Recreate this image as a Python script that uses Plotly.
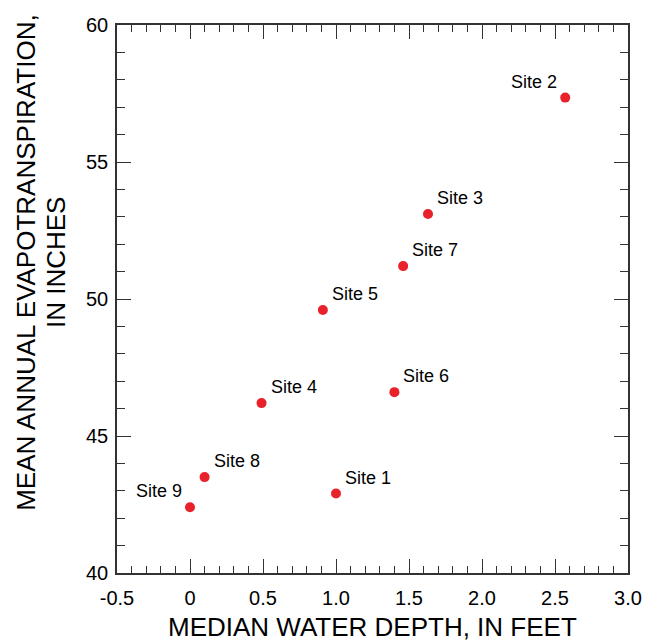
import plotly.graph_objects as go

sites = ["Site 1", "Site 2", "Site 3", "Site 4", "Site 5", "Site 6", "Site 7", "Site 8", "Site 9"]
depth = [1.00, 2.57, 1.63, 0.49, 0.91, 1.40, 1.46, 0.10, 0.00]
et = [42.9, 57.35, 53.1, 46.2, 49.6, 46.6, 51.2, 43.5, 42.4]
label_side = ["right", "left", "right", "right", "right", "right", "right", "right", "left"]

x_ticks = [-0.5, 0, 0.5, 1.0, 1.5, 2.0, 2.5, 3.0]
x_labels = ["-0.5", "0", "0.5", "1.0", "1.5", "2.0", "2.5", "3.0"]
y_ticks = [40, 45, 50, 55, 60]
y_labels = ["40", "45", "50", "55", "60"]

FONT = "Liberation Sans, Arial, Helvetica, sans-serif"

fig = go.Figure()
fig.add_trace(go.Scatter(
    x=depth, y=et, mode="markers",
    marker=dict(color="#e8212b", size=10),
    cliponaxis=False, showlegend=False,
))

for name, xv, yv, side in zip(sites, depth, et, label_side):
    fig.add_annotation(
        x=xv, y=yv, text=name, showarrow=False,
        xanchor="left" if side == "right" else "right", yanchor="middle",
        xshift=7 if side == "right" else -6, yshift=16,
        font=dict(family=FONT, size=18, color="black"),
    )

axis_common = dict(
    showgrid=False, zeroline=False, showline=True, linecolor="#333", linewidth=1.5,
    mirror="allticks", ticks="inside", ticklen=14, tickwidth=1.2, tickcolor="#333",
    tickfont=dict(family=FONT, size=20, color="black"),
)

fig.update_xaxes(range=[-0.5, 3.0], tickvals=x_ticks, ticktext=x_labels, ticklabelstandoff=6,
                 minor=dict(dtick=0.1, ticks="inside", ticklen=7, tickcolor="#333", tickwidth=1.2),
                 **axis_common)
fig.update_yaxes(range=[40, 60], tickvals=y_ticks, ticktext=y_labels, ticklabelstandoff=3,
                 minor=dict(dtick=1, ticks="inside", ticklen=8, tickcolor="#333", tickwidth=1.2),
                 **axis_common)

fig.add_annotation(text="MEDIAN WATER DEPTH, IN FEET", xref="paper", yref="paper",
                   x=0.5, y=-0.099, xanchor="center", yanchor="middle", showarrow=False,
                   font=dict(family=FONT, size=26, color="black"))
fig.add_annotation(text="MEAN ANNUAL EVAPOTRANSPIRATION,", xref="paper", yref="paper",
                   x=-0.178, y=0.566, xanchor="center", yanchor="middle", textangle=-90, showarrow=False,
                   font=dict(family=FONT, size=26, color="black"))
fig.add_annotation(text="IN INCHES", xref="paper", yref="paper",
                   x=-0.119, y=0.566, xanchor="center", yanchor="middle", textangle=-90, showarrow=False,
                   font=dict(family=FONT, size=26, color="black"))

fig.update_layout(
    width=658, height=641, plot_bgcolor="white", paper_bgcolor="white",
    margin=dict(l=117, r=30, t=25, b=68),
)
fig.write_html("out.html")
